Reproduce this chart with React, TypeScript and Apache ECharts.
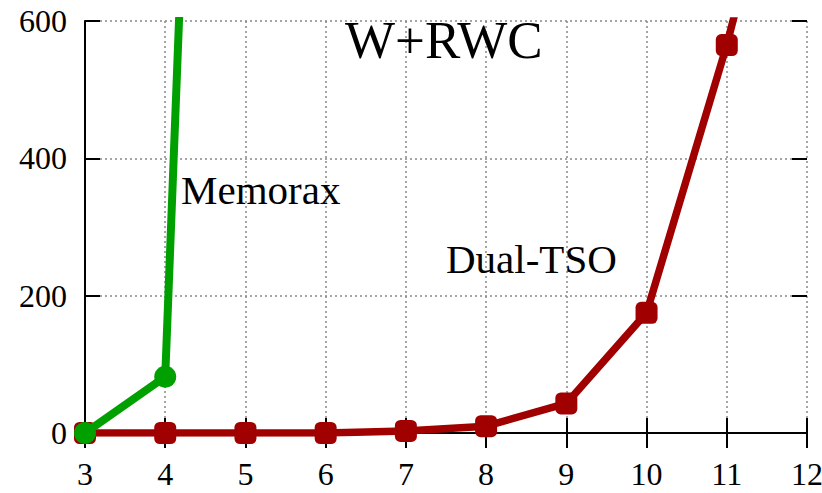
import React, { useEffect, useRef } from "react";
import * as echarts from "echarts";

const xTicks = [3, 4, 5, 6, 7, 8, 9, 10, 11, 12];
const yTicks = [0, 200, 400, 600];
const memoraxX = [3, 4, 5];
const memoraxY = [0, 82, 3100];
const dualX = [3, 4, 5, 6, 7, 8, 9, 10, 11, 12];
const dualY = [0, 0, 0, 0, 3, 10, 43, 175, 565, 1020];
const titleText = "W+RWC";
const labelMemorax = "Memorax";
const labelDual = "Dual-TSO";

const FONT = "Liberation Serif";

export default function App() {
  const ref = useRef<HTMLDivElement>(null);
  useEffect(() => {
    document.body.style.margin = "0";
    if (!ref.current) return;
    const chart = echarts.init(ref.current, undefined, { renderer: "svg" });
    const splitLine = { show: true, lineStyle: { color: "#888", type: [2, 3] as any, width: 1.5 } };
    const tick = { show: true, inside: true, length: 15, lineStyle: { color: "#000", width: 2 } };
    const label = {
      color: "#000",
      fontSize: 32,
      fontFamily: FONT,
      fontWeight: "normal",
    };
    chart.setOption({
      animation: false,
      backgroundColor: "#fff",
      textStyle: { fontFamily: FONT, fontSize: 32, color: "#000" },
      grid: { left: 85, right: 15, top: 21, bottom: 60, containLabel: false, outerBoundsMode: "none" },
      xAxis: [
        {
          type: "value",
          min: xTicks[0],
          max: xTicks[xTicks.length - 1],
          interval: 1,
          position: "bottom",
          axisLine: { show: true, onZero: false, lineStyle: { color: "#000", width: 2 } },
          axisTick: tick,
          splitLine,
          axisLabel: { ...label, margin: 25, showMaxLabel: true },
        },
        {
          type: "value",
          min: xTicks[0],
          max: xTicks[xTicks.length - 1],
          interval: 1,
          position: "top",
          axisLine: { show: false },
          axisTick: tick,
          splitLine: { show: false },
          axisLabel: { show: false },
        },
      ],
      yAxis: [
        {
          type: "value",
          min: yTicks[0],
          max: yTicks[yTicks.length - 1],
          interval: 200,
          position: "left",
          axisLine: { show: true, onZero: false, lineStyle: { color: "#000", width: 2 } },
          axisTick: tick,
          splitLine,
          axisLabel: { ...label, margin: 18 },
        },
        {
          type: "value",
          min: yTicks[0],
          max: yTicks[yTicks.length - 1],
          interval: 200,
          position: "right",
          axisLine: { show: false },
          axisTick: tick,
          splitLine: { show: false },
          axisLabel: { show: false },
        },
      ],
      series: [
        {
          name: labelDual,
          type: "line",
          data: dualX.map((x, i) => [x, dualY[i]]),
          clip: true,
          symbol: "roundRect",
          symbolSize: 22,
          showAllSymbol: true,
          itemStyle: { color: "#a00000" },
          lineStyle: { color: "#a00000", width: 7.5, cap: "round", join: "round" },
          z: 2,
        },
        {
          name: labelMemorax,
          type: "line",
          data: memoraxX.map((x, i) => [x, memoraxY[i]]),
          clip: true,
          symbol: "circle",
          symbolSize: 22,
          showAllSymbol: true,
          itemStyle: { color: "#00a000" },
          lineStyle: { color: "#00a000", width: 8, cap: "round", join: "round" },
          z: 3,
        },
      ],
      graphic: [
        {
          type: "text",
          left: 345,
          top: 13,
          style: { text: titleText, fontSize: 53, fontFamily: FONT, fill: "#000" },
          z: 10,
        },
        {
          type: "text",
          left: 181,
          top: 169,
          style: { text: labelMemorax, fontSize: 41, fontFamily: FONT, fill: "#000" },
          z: 10,
        },
        {
          type: "text",
          left: 446,
          top: 238,
          style: { text: labelDual, fontSize: 41, fontFamily: FONT, fill: "#000" },
          z: 10,
        },
      ],
    });
    return () => chart.dispose();
  }, []);
  return <div ref={ref} style={{ width: 822, height: 493 }} />;
}
